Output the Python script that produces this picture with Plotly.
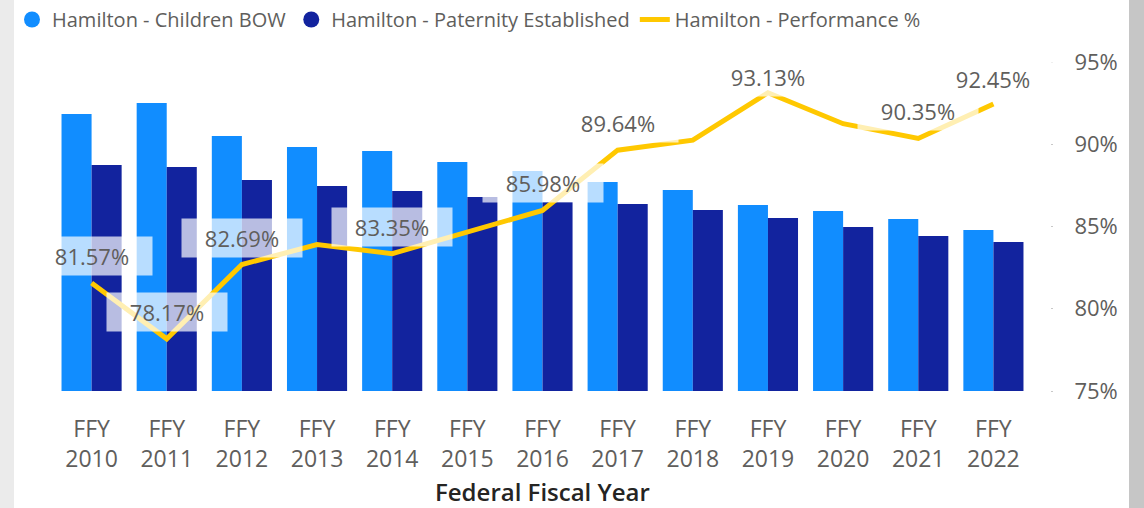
import plotly.graph_objects as go

# ---- data ----
years = ["FFY 2010", "FFY 2011", "FFY 2012", "FFY 2013", "FFY 2014", "FFY 2015", "FFY 2016",
         "FFY 2017", "FFY 2018", "FFY 2019", "FFY 2020", "FFY 2021", "FFY 2022"]
children_bow = [67360, 70030, 62000, 59330, 58360, 55680, 53500, 50820, 48880, 45230, 43770, 41820, 39150]
paternity_est = [54960, 54480, 51310, 49850, 48640, 47180, 45960, 45480, 44020, 42070, 39880, 37700, 36240]
performance = [81.57, 78.17, 82.69, 83.90, 83.35, 84.65, 85.98, 89.64, 90.25, 93.13, 91.25, 90.35, 92.45]
labeled_years = ["FFY 2010", "FFY 2011", "FFY 2012", "FFY 2014", "FFY 2016", "FFY 2017",
                 "FFY 2019", "FFY 2021", "FFY 2022"]
pct_ticks = [75, 80, 85, 90, 95]
x_title = "Federal Fiscal Year"

LIGHT = "#118DFF"
DARK = "#12239E"
GOLD = "#FFC800"
GRAY = "#605E5C"
FONT = "Open Sans"

W, H = 1144, 508
ML, MR, MT, MB = 54, 94, 62, 117
PW = W - ML - MR
PH = H - MT - MB
XDOM = (1031 - ML) / PW

fig = go.Figure()
fig.add_trace(go.Bar(x=years, y=children_bow, name="Hamilton - Children BOW",
                     marker=dict(color=LIGHT, line=dict(width=0)), showlegend=False, yaxis="y"))
fig.add_trace(go.Bar(x=years, y=paternity_est, name="Hamilton - Paternity Established",
                     marker=dict(color=DARK, line=dict(width=0)), showlegend=False, yaxis="y"))
# legend entries with circular symbols
fig.add_trace(go.Scatter(x=[None], y=[None], mode="markers", name="Hamilton - Children BOW",
                         marker=dict(color=LIGHT, size=20, symbol="circle"), yaxis="y"))
fig.add_trace(go.Scatter(x=[None], y=[None], mode="markers", name="Hamilton - Paternity Established",
                         marker=dict(color=DARK, size=20, symbol="circle"), yaxis="y"))
fig.add_trace(go.Scatter(x=years, y=performance, mode="lines", name="Hamilton - Performance %",
                         line=dict(color=GOLD, width=5), yaxis="y2"))

shift = {"FFY 2019": 16, "FFY 2022": 25}
for yr, v in zip(years, performance):
    if yr in labeled_years:
        fig.add_annotation(x=yr, y=v, yref="y2", text=f"{v:.2f}%", showarrow=False,
                           yshift=shift.get(yr, 27), width=120, height=38, borderpad=0,
                           bgcolor="rgba(255,255,255,0.7)",
                           font=dict(family=FONT, size=22, color=GRAY))

# x-axis title
fig.add_annotation(x=XDOM / 2, xref="paper", y=(H - MB - 491) / PH, yref="paper",
                   text=x_title, showarrow=False, xanchor="center", yanchor="middle", borderpad=0,
                   font=dict(family=FONT, size=24, color="#252423", weight=600))

# frame strips
fig.add_shape(type="rect", xref="paper", yref="paper",
              x0=(0 - ML) / PW, x1=(14 - ML) / PW, y0=(H - MB - H) / PH, y1=(H - MB) / PH,
              fillcolor="#EBEBEB", line=dict(width=0), layer="below")
fig.add_shape(type="rect", xref="paper", yref="paper",
              x0=(1129 - ML) / PW, x1=(W - ML) / PW, y0=(H - MB - H) / PH, y1=(H - MB) / PH,
              fillcolor="#C6C6C6", line=dict(width=0), layer="below")

fig.update_layout(
    width=W, height=H,
    margin=dict(l=ML, r=MR, t=MT, b=MB, autoexpand=False),
    paper_bgcolor="white", plot_bgcolor="white",
    barmode="group", bargap=0.2, bargroupgap=0,
    font=dict(family=FONT, color=GRAY),
    xaxis=dict(domain=[0, XDOM], type="category", automargin=False,
               range=[-0.5, len(years) - 0.5],
               tickvals=years, ticktext=[y.replace(" ", "<br>") for y in years],
               tickfont=dict(size=23, color=GRAY), showgrid=False, showline=False, zeroline=False,
               ticks="", ticklabelstandoff=22),
    yaxis=dict(range=[0, 80000], visible=False, showgrid=False, zeroline=False, automargin=False),
    yaxis2=dict(range=[75, 95], overlaying="y", side="right", anchor="free", position=1,
                automargin=False,
                tickvals=pct_ticks, ticktext=[f"{t}%" for t in pct_ticks],
                tickfont=dict(size=22, color=GRAY), showgrid=False, zeroline=False, showline=False,
                ticks="outside", ticklen=2, tickcolor="#C8C8C8", ticklabelstandoff=17),
    legend=dict(orientation="h", x=12 / W, xref="container", y=1, yref="container",
                yanchor="top", xanchor="left", font=dict(size=20, color=GRAY),
                bgcolor="rgba(0,0,0,0)", traceorder="normal", itemwidth=30),
    showlegend=True,
)

fig.write_html("out.html", config={"displayModeBar": False},
               post_script="document.body.style.margin='0px';")
